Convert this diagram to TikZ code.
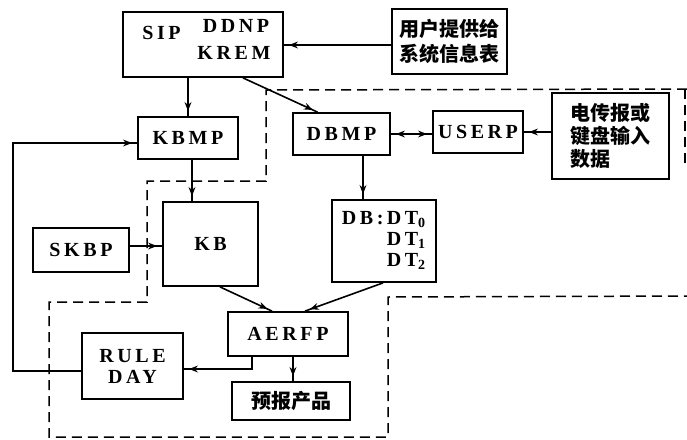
\documentclass[tikz,border=0pt]{standalone}
\usepackage{fontspec}
\setmainfont{Liberation Serif}
\newfontfamily\cjk{Noto Sans CJK SC}
\usetikzlibrary{arrows.meta,decorations.markings,calc}
\tikzset{
  box/.style={draw, line width=0.9pt, inner sep=0pt, align=center},
  lat/.style={font=\bfseries\fontsize{10}{10.5}\selectfont\addfontfeature{LetterSpace=18}},
  zh/.style={font=\cjk\bfseries\fontsize{10}{12.5}\selectfont},
  tipk/.tip={Stealth[length=4.5pt,width=3.4pt]},
  arr/.style={line width=0.8pt, postaction={decorate},
    decoration={markings, mark=at position -2.5pt with {\arrow{tipk}}}},
  darr/.style={line width=0.8pt, postaction={decorate},
    decoration={markings, mark=at position 2.5pt with {\arrowreversed{tipk}},
                mark=at position -2.5pt with {\arrow{tipk}}}},
  plain/.style={line width=0.8pt},
  dashline/.style={line width=0.75pt, dash pattern=on 5pt off 3pt},
}
\begin{document}
\begin{tikzpicture}[x=0.5pt,y=-0.5pt]
\useasboundingbox (0,0) rectangle (687,440);

% dashed outline
\draw[dashline] (687,89) -- (266,90) -- (266,181) -- (147,181) -- (147,302)
  -- (49,302) -- (49,437) -- (388,437) -- (388,297) -- (687,296);
\draw[dashline] (685,89) -- (685,165);

% boxes
\node[box, minimum width=80pt, minimum height=32.5pt] (sip) at (203,44.5) {};
\node[lat] (sipa) at (161.5,33) {SIP};
\node[lat] (sipb) at (236,26) {DDNP};
\node[lat] (sipc) at (234,53) {KREM};

\node[box, zh, minimum width=57.5pt, minimum height=32.5pt] (user) at (449.5,41.5) {用户提供给\\系统信息表};
\node[box, lat, minimum width=50pt, minimum height=21pt] (kbmp) at (188,138) {KBMP};
\node[box, lat, minimum width=48.5pt, minimum height=21pt] (dbmp) at (341.5,134) {DBMP};
\node[box, lat, minimum width=45pt, minimum height=21pt] (userp) at (478,132) {USERP};
\node[box, zh, align=left, font=\cjk\bfseries\fontsize{10}{11.5}\selectfont, minimum width=58.5pt, minimum height=43pt] (tele) at (610.5,136) {电传报或\\键盘输入\\数据};
\node[box, lat, minimum width=47.5pt, minimum height=42pt] (kb) at (210.5,244) {KB};
\node[box, lat, minimum width=48pt, minimum height=22pt] (skbp) at (81,250) {SKBP};
\node[box, lat, minimum width=52pt, minimum height=41pt] (db) at (384,241)
  {\begin{tabular}{@{}l@{\,}l@{}}DB:&DT\textsubscript{0}\\&DT\textsubscript{1}\\&DT\textsubscript{2}\end{tabular}};
\node[box, lat, minimum width=60pt, minimum height=22pt] (aerfp) at (288,334) {AERFP};
\node[box, lat, minimum width=50.5pt, minimum height=33pt] (rule) at (132.5,366) {RULE\\DAY};
\node[box, zh, minimum width=59pt, minimum height=19pt] (prod) at (291,401) {预报产品};

% connectors
\draw[arr] (user.west |- 0,45) -- (sip.east |- 0,45);
\draw[arr] (sip.south -| kbmp.north) -- (kbmp.north);
\draw[arr] ([xshift=20pt]sip.south) -- ([xshift=-12pt]dbmp.north);
\draw[darr] (dbmp.east) -- (userp.west |- dbmp.east);
\draw[arr] (tele.west |- userp.east) -- (userp.east);
\draw[arr] ([xshift=10.75pt]dbmp.south) -- ([xshift=10.75pt]dbmp.south |- db.north);
\draw[arr] ([xshift=2pt]kbmp.south) -- ([xshift=2pt]kbmp.south |- kb.north);
\draw[arr] (skbp.east |- 0,246) -- (kb.west |- 0,246);
\draw[arr] ([xshift=4.75pt]kb.south) -- ([xshift=-8pt]aerfp.north);
\draw[arr] ([xshift=-0.5pt]db.south) -- ([xshift=8.5pt]aerfp.north);
\draw[arr] ([xshift=2.5pt]aerfp.south) -- ([xshift=2.5pt]aerfp.south |- prod.north);
\draw[arr] ([xshift=-18pt]aerfp.south) |- ([yshift=-1.5pt]rule.east);
\coordinate (fb) at (13,143);
\draw[arr] ([yshift=-2.5pt]rule.west) -| (fb) -- (kbmp.west |- fb);
\end{tikzpicture}
\end{document}
